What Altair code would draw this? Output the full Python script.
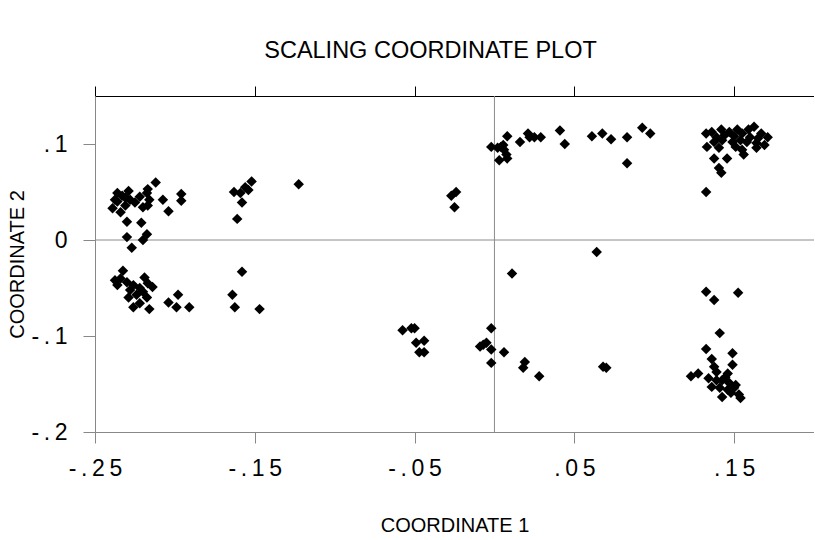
import altair as alt
import pandas as pd

# Scaling coordinates (dimension 1, dimension 2) for each object
coord1 = [
    # upper-left group
    -0.239, -0.2375, -0.236, -0.233, -0.231, -0.229, -0.234, -0.228, -0.225, -0.222,
    -0.220, -0.2175, -0.217, -0.216, -0.212, -0.217, -0.2075, -0.204, -0.196, -0.196,
    -0.230, -0.221, -0.2175, -0.230, -0.227, -0.220, -0.236, -0.231,
    -0.152, -0.156, -0.163, -0.159, -0.154, -0.158, -0.161, -0.1225,
    -0.027, -0.024, -0.025,
    # upper-right groups
    -0.002, 0.002, 0.004, 0.006, 0.0075, 0.003, 0.008, 0.008, 0.016, 0.021,
    0.022, 0.025, 0.029, 0.041, 0.044, 0.061, 0.0675, 0.073, 0.083, 0.083,
    0.0925, 0.0975, 0.0055,
    0.1325, 0.136, 0.142, 0.147, 0.152, 0.155, 0.159, 0.1625, 0.167, 0.171,
    0.1375, 0.1425, 0.149, 0.158, 0.164, 0.169, 0.1375, 0.1456, 0.156, 0.155,
    0.1405, 0.142, 0.1325, 0.133, 0.1405, 0.151, 0.164, 0.144, 0.150, 0.160,
    0.165, 0.139, 0.154,
    # near the origin
    0.064, 0.011,
    # lower-left groups
    -0.2325, -0.2375, -0.234, -0.230, -0.226, -0.219, -0.217, -0.214, -0.222, -0.229,
    -0.224, -0.2175, -0.226, -0.222, -0.216, -0.204, -0.198, -0.199, -0.191,
    -0.236, -0.228, -0.220,
    -0.158, -0.164, -0.1625, -0.147,
    # lower-middle groups
    -0.0575, -0.052, -0.050, -0.049, -0.044, -0.047, -0.044,
    -0.002, -0.009, -0.007, -0.002, 0.006, -0.002, -0.005,
    0.019, 0.018, 0.028, 0.070, 0.068,
    # lower-right group
    0.1325, 0.1375, 0.1525, 0.141, 0.1325, 0.136, 0.149, 0.149, 0.1375, 0.123,
    0.1275, 0.134, 0.136, 0.1425, 0.146, 0.147, 0.150, 0.1425, 0.153, 0.154,
    0.146, 0.141, 0.151, 0.148, 0.139, 0.1445, 0.139,
]

coord2 = [
    # upper-left group
    0.033, 0.042, 0.049, 0.046, 0.036, 0.051, 0.029, 0.042, 0.039, 0.045,
    0.034, 0.049, 0.036, 0.042, 0.060, 0.053, 0.042, 0.030, 0.048, 0.041,
    0.019, 0.018, 0.006, 0.003, -0.008, 0.000, 0.040, 0.044,
    0.061, 0.055, 0.050, 0.049, 0.052, 0.039, 0.022, 0.058,
    0.046, 0.050, 0.034,
    # upper-right groups
    0.097, 0.096, 0.097, 0.094, 0.089, 0.083, 0.085, 0.108, 0.102, 0.111,
    0.107, 0.107, 0.107, 0.114, 0.100, 0.108, 0.111, 0.105, 0.107, 0.080,
    0.117, 0.111, 0.099,
    0.111, 0.1125, 0.115, 0.1125, 0.115, 0.111, 0.115, 0.118, 0.111, 0.107,
    0.102, 0.104, 0.102, 0.102, 0.101, 0.099, 0.085, 0.085, 0.089, 0.094,
    0.075, 0.070, 0.050, 0.097, 0.096, 0.097, 0.096, 0.109, 0.108, 0.107,
    0.106, 0.107, 0.104,
    # near the origin
    -0.0125, -0.035,
    # lower-left groups
    -0.032, -0.042, -0.040, -0.044, -0.047, -0.039, -0.045, -0.049, -0.050, -0.060,
    -0.057, -0.060, -0.070, -0.066, -0.072, -0.065, -0.057, -0.070, -0.070,
    -0.047, -0.052, -0.054,
    -0.033, -0.057, -0.070, -0.072,
    # lower-middle groups
    -0.094, -0.092, -0.092, -0.107, -0.105, -0.117, -0.117,
    -0.092, -0.111, -0.109, -0.114, -0.117, -0.128, -0.107,
    -0.127, -0.133, -0.142, -0.133, -0.132,
    # lower-right group
    -0.054, -0.0625, -0.055, -0.097, -0.1135, -0.124, -0.118, -0.130, -0.132, -0.142,
    -0.139, -0.144, -0.153, -0.146, -0.139, -0.149, -0.154, -0.1635, -0.161, -0.1645,
    -0.156, -0.154, -0.151, -0.159, -0.146, -0.143, -0.1375,
]

x_tick_values = [-0.25, -0.15, -0.05, 0.05, 0.15]
x_tick_labels = ["-.25", "-.15", "-.05", ".05", ".15"]
y_tick_values = [-0.2, -0.1, 0.0, 0.1]
y_tick_labels = ["-.2", "-.1", "0", ".1"]

FONT = "Liberation Sans"
GAP = "\u2009"


def label_expr(values, labels):
    """Nested conditional that maps each tick value to its letter-spaced label."""
    expr = "''"
    for v, lab in zip(reversed(values), reversed(labels)):
        spaced = GAP.join(lab)
        expr = f"abs(datum.value - ({v})) < 1e-9 ? '{spaced}' : ({expr})"
    return expr


df = pd.DataFrame({"c1": coord1, "c2": coord2})

x_scale = alt.Scale(domain=[-0.25, 0.2], nice=False, zero=False)
y_scale = alt.Scale(domain=[-0.2, 0.15], nice=False, zero=False)

# Vertical reference line at coordinate 1 = 0; also carries the top tick axis
v_rule = alt.Chart(pd.DataFrame({"c1": [0.0]})).mark_rule(
    color="#8c8c8c", strokeWidth=1
).encode(
    x=alt.X(
        "c1:Q",
        scale=x_scale,
        axis=alt.Axis(
            orient="top", values=x_tick_values, labels=False, ticks=True,
            tickSize=10, tickColor="black", domain=True, domainColor="black",
            grid=False, title=None,
        ),
    )
)

# Horizontal reference line at coordinate 2 = 0
h_rule = alt.Chart(pd.DataFrame({"c2": [0.0]})).mark_rule(
    color="#8c8c8c", strokeWidth=1
).encode(y=alt.Y("c2:Q", scale=y_scale, axis=None))

points = alt.Chart(df).mark_point(
    shape="diamond", filled=True, color="black", size=110, opacity=1
).encode(
    x=alt.X(
        "c1:Q",
        scale=x_scale,
        axis=alt.Axis(
            orient="bottom", values=x_tick_values,
            labelExpr=label_expr(x_tick_values, x_tick_labels),
            labelFlush=False, labelOverlap=False,
            tickSize=11, labelPadding=14, labelFontSize=23,
            title="COORDINATE 1", titlePadding=35, titleFontSize=20,
            titleFontWeight="normal",
            grid=False,
        ),
    ),
    y=alt.Y(
        "c2:Q",
        scale=y_scale,
        axis=alt.Axis(
            orient="left", values=y_tick_values,
            labelExpr=label_expr(y_tick_values, y_tick_labels),
            labelFlush=False, labelOverlap=False,
            tickSize=12, labelPadding=16, labelFontSize=23,
            title="COORDINATE 2", titlePadding=3, titleFontSize=20,
            titleFontWeight="normal",
            grid=False,
        ),
    ),
)

chart = alt.layer(v_rule, h_rule, points).resolve_axis(
    x="independent", y="independent"
).properties(
    width=719,
    height=336,
    padding={"left": 95, "top": 96, "right": 0, "bottom": 108},
    autosize=alt.AutoSizeParams(type="none"),
    title=alt.TitleParams(
        "SCALING COORDINATE PLOT", font=FONT, fontSize=23.5, fontWeight="normal",
        color="black", anchor="middle", dx=-24, offset=23,
    ),
).configure_view(
    stroke="black", strokeWidth=1
).configure_axis(
    domainColor="black", tickColor="black", labelColor="black", titleColor="black",
    labelFont=FONT, titleFont=FONT, titleFontWeight="normal",
    domainWidth=1, tickWidth=1,
).configure(background="white")

chart.save("out.html", embed_options={"renderer": "svg", "actions": False})
